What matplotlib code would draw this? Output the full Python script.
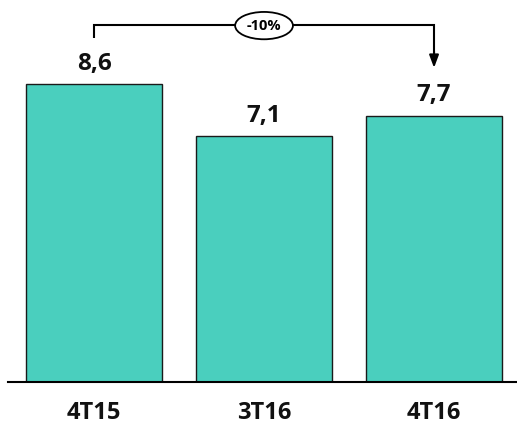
import matplotlib.pyplot as plt
from matplotlib.patches import Ellipse

quarters = ["4T15", "3T16", "4T16"]
values = [8.6, 7.1, 7.7]
value_labels = ["8,6", "7,1", "7,7"]
change_label = "-10%"

plt.rcParams['font.family'] = ['Open Sans', 'DejaVu Sans']

fig = plt.figure(figsize=(5.17, 4.28), dpi=100)
ax = fig.add_axes([8 / 517, 46 / 428, 509 / 517, 382 / 428])

x = list(range(len(quarters)))
bars = ax.bar(x, values, width=0.805, color='#4ACFBE', edgecolor='#1a1a1a', linewidth=1.0)

ax.set_xlim(-0.506, 2.488)
ax.set_ylim(0, 11.04)

for rect, lab in zip(bars, value_labels):
    ax.annotate(lab, (rect.get_x() + rect.get_width() / 2, rect.get_height()),
                xytext=(0, 6), textcoords='offset points', ha='center', va='bottom',
                fontsize=17.5, fontweight='bold', color='#111111')

for xi, q in zip(x, quarters):
    ax.annotate(q, (xi, 0), xytext=(0, -14), textcoords='offset points',
                ha='center', va='top', fontsize=17, fontweight='bold', color='#111111')

# bracket from first to last bar with down arrow
y_top = 10.32
ax.plot([0, 0, 2, 2], [9.94, y_top, y_top, 9.5], color='black', lw=1.5,
        solid_capstyle='butt', solid_joinstyle='miter', clip_on=False)
ax.annotate('', xy=(2, 9.08), xytext=(2, 9.55),
            arrowprops=dict(arrowstyle='-|>,head_width=0.28,head_length=0.75',
                            color='black', lw=1.5, shrinkA=0, shrinkB=0))
ax.add_patch(Ellipse((1.0, 10.3), 0.34, 0.79, facecolor='white',
                     edgecolor='black', lw=1.3, zorder=3, clip_on=False))
ax.text(1.0, 10.3, change_label, ha='center', va='center', fontsize=10.5,
        fontweight='bold', zorder=4)

for side in ['top', 'right', 'left']:
    ax.spines[side].set_visible(False)
ax.spines['bottom'].set_linewidth(1.5)
ax.set_xticks([])
ax.set_yticks([])

fig.savefig("out.png", dpi=100)
